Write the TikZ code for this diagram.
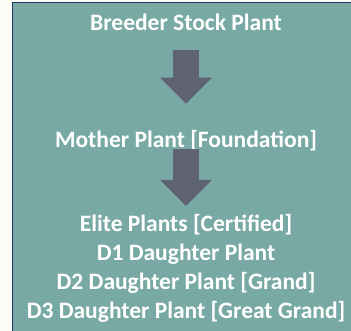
\documentclass[tikz,border=0pt]{standalone}
\usepackage{fontspec}
\setmainfont{Carlito}
\usepackage{tikz}
\usepackage{xcolor}
\usetikzlibrary{arrows.meta, positioning, calc}
\definecolor{PlantTeal}{HTML}{79A9A4}
\definecolor{PlantNavy}{HTML}{203864}
\definecolor{PlantSlate}{HTML}{5F6272}
\definecolor{PlantPaper}{HTML}{FDFBF5}
\tikzset{
    % Node styles
    stagetext/.style={
        text=white,
        inner sep=0pt,
        anchor=base,
        align=center,
        font=\fontsize{23.6}{29}\selectfont\bfseries
    },
    % Arrow styles
    blockarrow/.style={
        PlantSlate,
        line width=26bp,
        -{Triangle[width=52bp,length=26bp,line width=0pt]}
    }
}
\begin{document}
\begin{tikzpicture}[x=1bp,y=-1bp]
            \useasboundingbox (0,0) rectangle (351,331);
            \fill[PlantPaper] (0,0) rectangle (351,331);

            % Panel
            \draw[PlantNavy,fill=PlantTeal,line width=1.5bp] (12.5,2.5) rectangle (360,340);

            % Stages
            \node[stagetext] (breeder) at (186,30) {Breeder Stock Plant};
            \node[stagetext] (mother) at (186,147) {Mother Plant [Foundation]};
            \node[stagetext] (elite) at (186,318) {Elite Plants [Certified]\\
                D1 Daughter Plant\\
                D2 Daughter Plant [Grand]\\
                D3 Daughter Plant [Great Grand]};

            % Arrows
            \draw[blockarrow,shorten <=20bp,shorten >=26bp] (breeder.south) -- (mother.north);
            \draw[blockarrow,shorten <=-2bp,shorten >=8bp] (mother.south) -- (elite.north);
        \end{tikzpicture}
\end{document}
